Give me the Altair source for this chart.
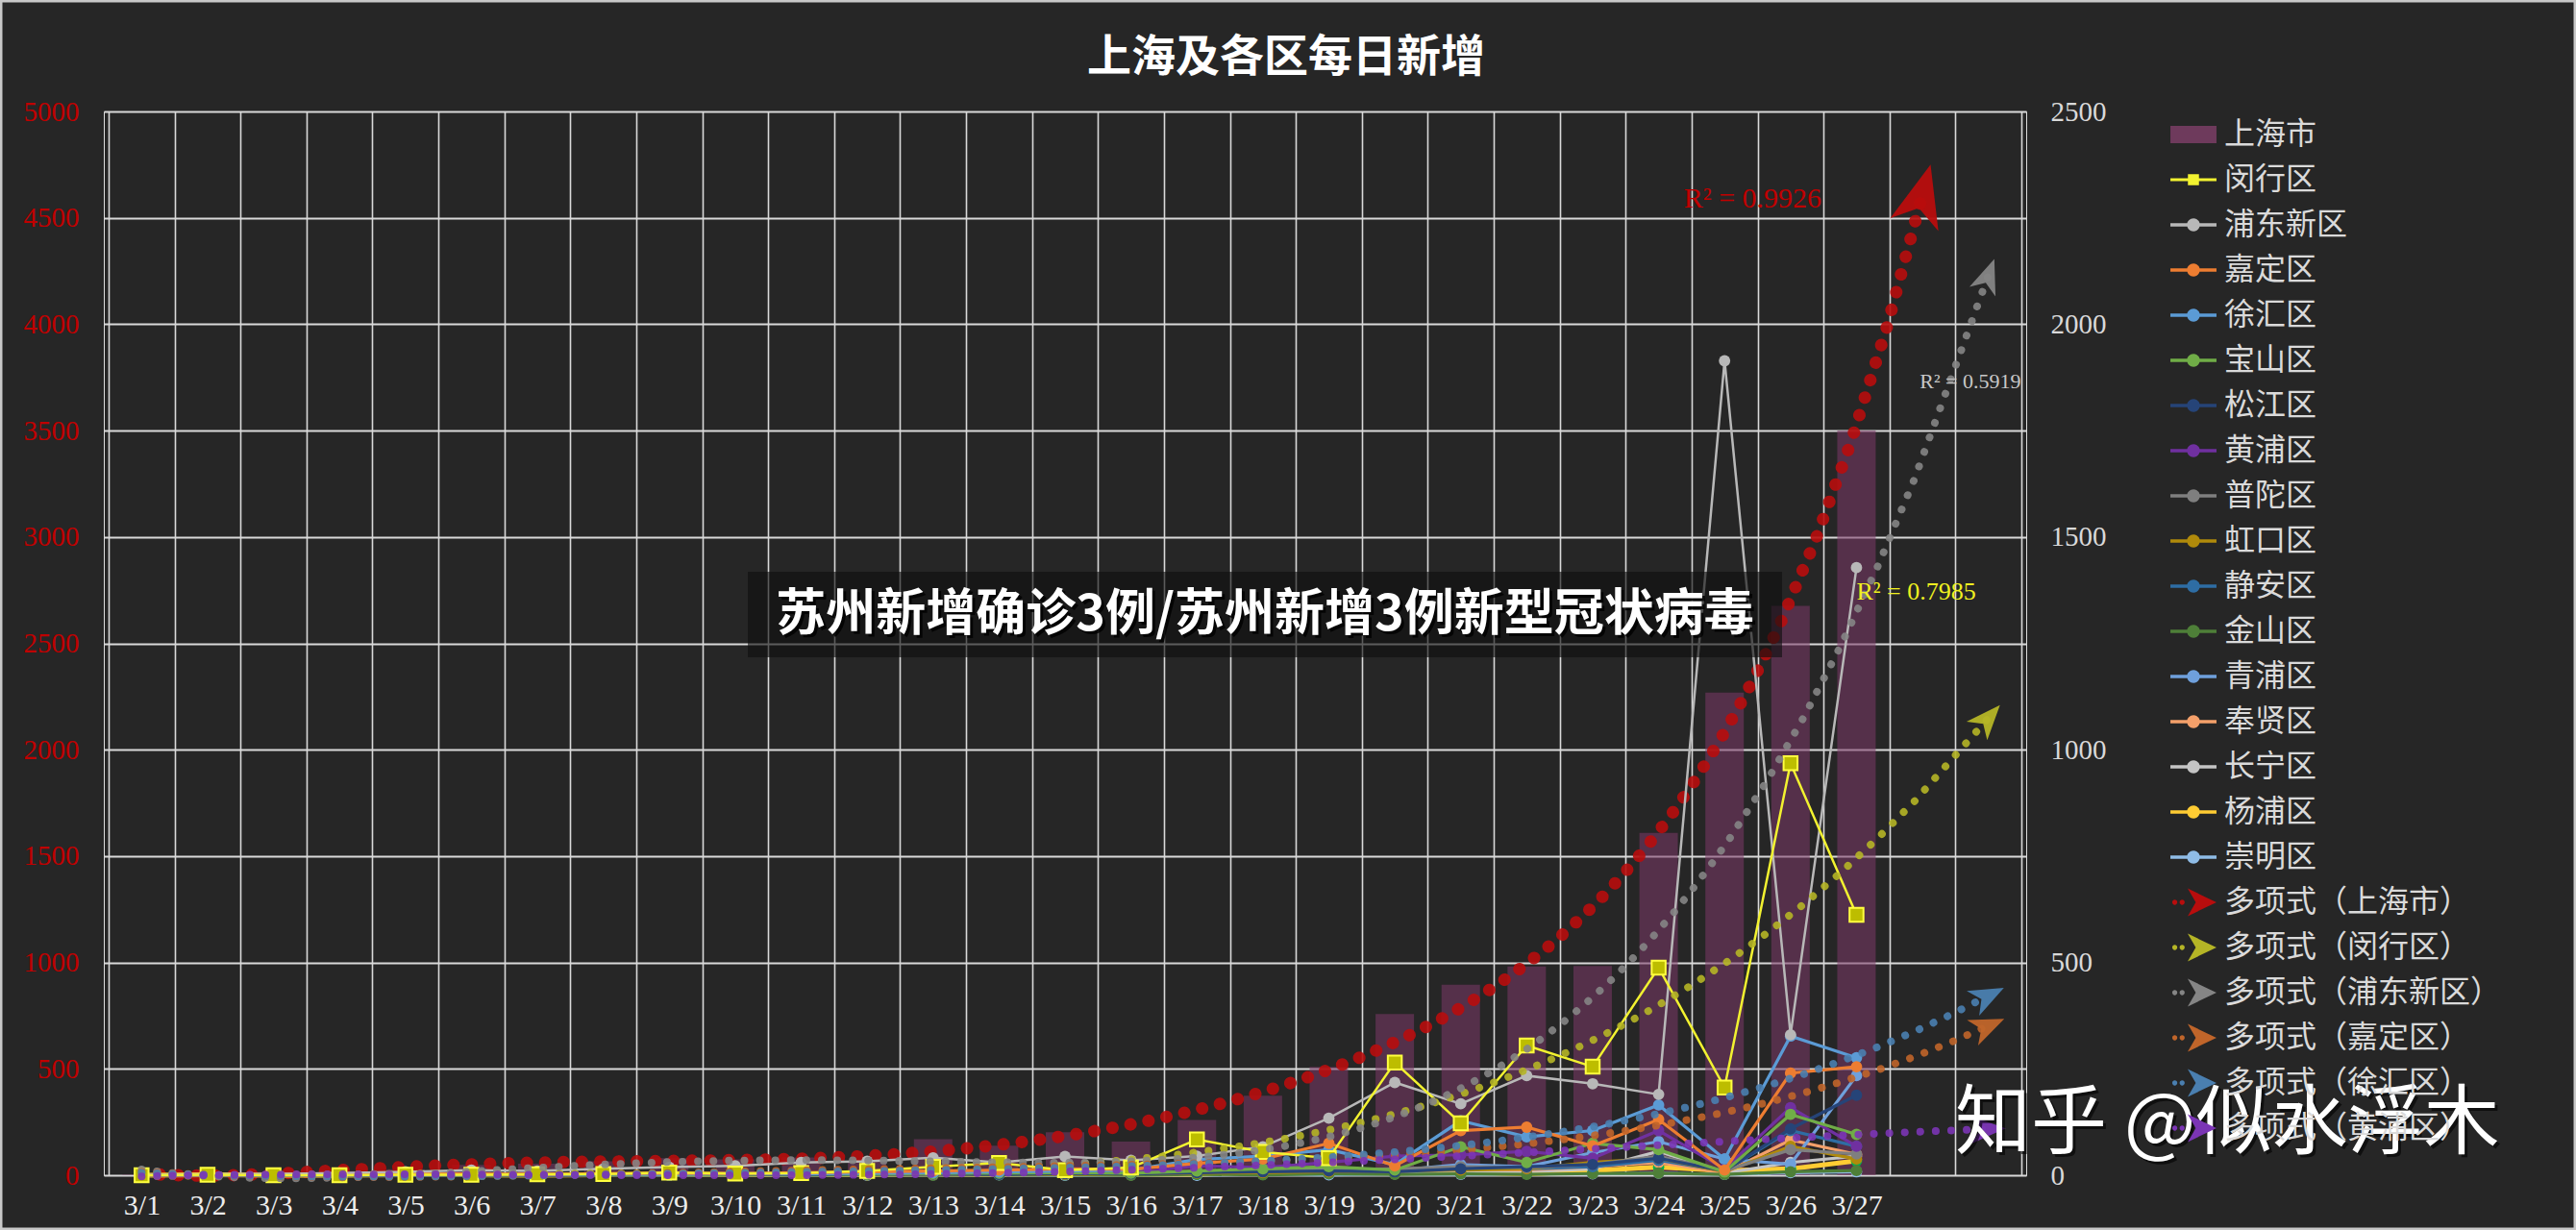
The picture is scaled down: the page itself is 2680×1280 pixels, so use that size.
import altair as alt
import pandas as pd

# ---------------- text ----------------
TITLE = "上海及各区每日新增"
BANNER = "苏州新增确诊3例/苏州新增3例新型冠状病毒"
WATERMARK = "知乎 @似水浮木"

# ---------------- data ----------------
DAY_NUM = list(range(1, 28))  # 3/1 ... 3/27
SHANGHAI = [2, 8, 16, 19, 28, 48, 54, 65, 80, 75, 83, 65, 169, 139, 202, 158, 260, 374, 509, 758,
            896, 981, 983, 1609, 2269, 2676, 3500]

DISTRICT_NAMES = ["闵行区", "浦东新区", "嘉定区", "徐汇区", "宝山区", "松江区", "黄浦区", "普陀区",
                  "虹口区", "静安区", "金山区", "青浦区", "奉贤区", "长宁区", "杨浦区", "崇明区"]
MINHANG = [0, 1, 0, 0, 1, 1, 2, 3, 6, 4, 5, 10, 20, 29, 12, 18, 84, 55, 40, 265, 122, 305, 255, 488, 206, 968, 612]
PUDONG = [1, 2, 3, 5, 8, 12, 10, 15, 19, 22, 30, 33, 41, 30, 44, 35, 45, 67, 134, 218, 168, 234, 215, 190, 1914, 330, 1428]
JIADING = [0, 0, 1, 1, 2, 3, 2, 4, 5, 4, 6, 8, 10, 12, 15, 14, 28, 38, 75, 22, 105, 113, 69, 131, 12, 240, 255]
XUHUI = [0, 0, 0, 1, 1, 2, 1, 3, 2, 4, 3, 5, 6, 8, 10, 12, 37, 45, 60, 25, 128, 90, 105, 165, 38, 327, 276]
BAOSHAN = [0, 0, 0, 0, 1, 0, 1, 2, 1, 2, 3, 2, 4, 5, 6, 5, 10, 15, 20, 12, 67, 30, 75, 60, 8, 143, 96]
SONGJIANG = [0, 0, 0, 0, 0, 1, 0, 1, 1, 2, 1, 2, 3, 2, 4, 3, 6, 8, 10, 8, 15, 20, 25, 40, 10, 109, 188]
HUANGPU = [0, 0, 0, 0, 0, 1, 1, 2, 1, 2, 3, 3, 4, 5, 6, 5, 22, 18, 30, 45, 48, 56, 40, 105, 15, 159, 68]
PUTUO = [0, 0, 0, 0, 1, 0, 1, 1, 2, 1, 2, 3, 2, 4, 3, 5, 8, 10, 12, 15, 20, 18, 25, 45, 10, 60, 50]
HONGKOU = [0, 0, 0, 0, 0, 0, 1, 0, 1, 1, 2, 1, 2, 3, 2, 3, 5, 6, 8, 10, 12, 15, 30, 40, 8, 68, 38]
JINGAN = [0, 0, 0, 0, 0, 1, 0, 1, 1, 1, 2, 2, 3, 2, 4, 3, 6, 8, 10, 12, 18, 15, 20, 35, 10, 105, 68]
JINSHAN = [0, 0, 0, 0, 0, 0, 0, 0, 0, 1, 0, 1, 0, 1, 1, 0, 2, 1, 3, 2, 3, 2, 4, 5, 2, 8, 11]
QINGPU = [0, 0, 0, 0, 1, 0, 1, 0, 1, 2, 1, 2, 3, 2, 4, 3, 5, 8, 12, 11, 25, 20, 53, 79, 38, 26, 234]
FENGXIAN = [0, 0, 0, 0, 1, 1, 0, 1, 2, 1, 2, 3, 2, 4, 3, 5, 8, 10, 12, 8, 15, 12, 20, 30, 5, 83, 49]
CHANGNING = [0, 0, 0, 0, 0, 1, 0, 1, 0, 1, 1, 2, 2, 3, 2, 3, 5, 6, 8, 5, 10, 8, 15, 56, 5, 30, 45]
YANGPU = [0, 1, 0, 0, 1, 1, 0, 1, 2, 1, 2, 2, 3, 2, 4, 3, 2, 7, 10, 5, 8, 3, 11, 19, 11, 15, 34]
CHONGMING = [0, 0, 0, 1, 0, 0, 0, 0, 1, 0, 1, 0, 1, 1, 0, 1, 0, 2, 1, 3, 2, 4, 3, 5, 2, 6, 8]

DISTRICT_VALUES = dict(zip(DISTRICT_NAMES, [MINHANG, PUDONG, JIADING, XUHUI, BAOSHAN, SONGJIANG, HUANGPU,
                                            PUTUO, HONGKOU, JINGAN, JINSHAN, QINGPU, FENGXIAN, CHANGNING,
                                            YANGPU, CHONGMING]))

TREND_DISTRICTS = ["闵行区", "浦东新区", "嘉定区", "徐汇区", "黄浦区"]
TREND_NAMES = ["多项式（上海市）", "多项式（闵行区）", "多项式（浦东新区）", "多项式（嘉定区）",
               "多项式（徐汇区）", "多项式（黄浦区）"]
# polynomial trend settings: (order, last day of the forecast)
SH_TREND = (6, 28)
DISTRICT_TREND = (4, 29)

R2_TEXT = ["R² = 0.9926", "R² = 0.5919", "R² = 0.7985"]
R2_DAY = [24.38, 27.96, 27.0]
R2_VALUE = [4590, 1865, 1371]  # first on left axis, the others on right axis

# ---------------- styles ----------------
BG = "#262626"
GRID = "#D9D9D9"
LINE_COLOR = {
    "闵行区": "#F2F230", "浦东新区": "#B8B8B8", "嘉定区": "#ED7D31", "徐汇区": "#5B9BD5",
    "宝山区": "#70AD47", "松江区": "#264478", "黄浦区": "#7030A0", "普陀区": "#7F7F7F",
    "虹口区": "#B08A0B", "静安区": "#2E6DA4", "金山区": "#4E7F38", "青浦区": "#6FA0DC",
    "奉贤区": "#F4A06A", "长宁区": "#C4C4C4", "杨浦区": "#FFCC33", "崇明区": "#8FBCE6",
}
MARKER_COLOR = dict(LINE_COLOR)
MARKER_COLOR["杨浦区"] = "#00B050"
LINE_WIDTH = {n: 3.2 for n in DISTRICT_NAMES}
LINE_WIDTH.update({"闵行区": 2.5, "浦东新区": 2.5, "杨浦区": 5})
TREND_COLOR = {"上海市": "#B80D0D", "闵行区": "#B5B526", "浦东新区": "#858585", "嘉定区": "#C0652A",
               "徐汇区": "#4A7FB0", "黄浦区": "#7B35B5"}
BAR_COLOR = "#7B3867"
R2_COLOR = ["#C00000", "#C8C8C8", "#F0F020"]
R2_SIZE = [30, 22, 26]

W, H = 2000, 1107
KX = W / 29.0

ARROW = "M1,0L-1,-0.8L-0.45,0L-1,0.8Z"
SYM_BAR = "M-1,-0.38H1V0.38H-1Z"
SYM_LINE_CIRCLE = "M-1,-0.07H1V0.07H-1Z M-0.28,0A0.28,0.28,0,1,1,0.28,0A0.28,0.28,0,1,1,-0.28,0Z"
SYM_LINE_SQUARE = "M-1,-0.06H1V0.06H-1Z M-0.24,-0.24H0.24V0.24H-0.24Z"
SYM_TREND = ("M-0.25,-0.6L1,0L-0.25,0.6L0.1,0Z "
             "M-0.92,0A0.11,0.11,0,1,1,-0.70,0A0.11,0.11,0,1,1,-0.92,0Z "
             "M-0.6,0A0.11,0.11,0,1,1,-0.38,0A0.11,0.11,0,1,1,-0.6,0Z")

# ---------------- encodings ----------------
X_GRID = [i + 0.5 for i in range(30)]
X = alt.X("day:Q", scale=alt.Scale(domain=[0.5, 29.5], nice=False, zero=False),
          axis=alt.Axis(values=X_GRID, grid=True, gridColor=GRID, gridWidth=1.6, ticks=False, domain=False,
                        labelExpr="datum.value < 27 ? '3/' + (datum.value + 0.5) : ''",
                        labelOffset=KX / 2, labelFont="Liberation Serif", labelFontSize=30,
                        labelColor="#EDEDED", labelPadding=16, labelOverlap=False, labelFlush=False,
                        labelBound=False, title=None))
Y_L = alt.Y("value:Q", scale=alt.Scale(domain=[0, 5000], nice=False, zero=True),
            axis=alt.Axis(values=list(range(0, 5001, 500)), format="d", orient="left", grid=True,
                          gridColor=GRID, gridWidth=2, ticks=False, domain=False, labelColor="#C00000",
                          labelFont="Liberation Serif", labelFontSize=29, labelPadding=26, title=None))
Y_R = alt.Y("value:Q", scale=alt.Scale(domain=[0, 2500], nice=False, zero=True),
            axis=alt.Axis(values=list(range(0, 2501, 500)), format="d", orient="right", grid=False,
                          ticks=False, domain=False, labelColor="#D9D9D9", labelFont="Liberation Serif",
                          labelFontSize=29, labelPadding=25, title=None))


def series_df(values):
    return pd.DataFrame({"day": DAY_NUM, "value": values})


def trend(values, color, y, ky, dot, gap, arrow_size, settings):
    order, last_day = settings
    base = alt.Chart(series_df(values)).transform_regression(
        "day", "value", method="poly", order=order, extent=[1, last_day])
    line = base.mark_line(color=color, strokeWidth=dot, strokeDash=[0.1, gap], strokeCap="round",
                          opacity=0.9).encode(x=X, y=y)
    head = base.transform_window(
        lx="lag(day)", lv="lag(value)", sort=[alt.SortField("day")]
    ).transform_joinaggregate(mx="max(day)").transform_filter(
        "datum.day >= datum.mx"
    ).transform_calculate(
        ang=f"(atan2(-(datum.value - datum.lv) * {ky}, (datum.day - datum.lx) * {KX}) * 180 / PI + 360) % 360"
    ).mark_point(shape=ARROW, filled=True, color=color, size=arrow_size, opacity=0.95,
                 strokeWidth=0).encode(x=X, y=y, angle=alt.Angle("ang:Q", scale=None))
    return [line, head]


# ---------------- left group (上海市) ----------------
bars = alt.Chart(series_df(SHANGHAI)).mark_bar(orient="vertical", size=40, color=BAR_COLOR,
                                               opacity=0.55).encode(x=X, y=Y_L)
left_layers = [bars] + trend(SHANGHAI, TREND_COLOR["上海市"], Y_L, H / 5000.0, 13, 19, 4200, SH_TREND)
r2_left = alt.Chart(pd.DataFrame({"t": [R2_TEXT[0]], "day": [R2_DAY[0]], "value": [R2_VALUE[0]]})).mark_text(
    align="left", baseline="middle", font="Liberation Serif", fontSize=R2_SIZE[0], color=R2_COLOR[0]
).encode(x=X, y=Y_L, text="t:N")
left_layers.append(r2_left)
left = alt.layer(*left_layers)

# ---------------- right group (districts) ----------------
right_layers = []
for name in reversed(DISTRICT_NAMES):
    df = series_df(DISTRICT_VALUES[name])
    right_layers.append(alt.Chart(df).mark_line(color=LINE_COLOR[name], strokeWidth=LINE_WIDTH[name])
                        .encode(x=X, y=Y_R))
    if name == "闵行区":
        pts = alt.Chart(df).mark_point(shape="square", filled=True, size=210, fill="#BDBD00",
                                       stroke="#FFFF40", strokeWidth=2, opacity=1)
    else:
        pts = alt.Chart(df).mark_point(shape="circle", filled=True, size=140, color=MARKER_COLOR[name],
                                       opacity=1)
    right_layers.append(pts.encode(x=X, y=Y_R))

for name in TREND_DISTRICTS:
    right_layers += trend(DISTRICT_VALUES[name], TREND_COLOR[name], Y_R, H / 2500.0, 8, 16, 1300,
                          DISTRICT_TREND)

r2_right = alt.Chart(pd.DataFrame({"t": R2_TEXT[1:], "day": R2_DAY[1:], "value": R2_VALUE[1:],
                                   "c": R2_COLOR[1:], "s": R2_SIZE[1:]})).mark_text(
    align="left", baseline="middle", font="Liberation Serif"
).encode(x=X, y=Y_R, text="t:N", color=alt.Color("c:N", scale=None), size=alt.Size("s:Q", scale=None))
right_layers.append(r2_right)

# legend (drawn from the scales only)
LEGEND_NAMES = ["上海市"] + DISTRICT_NAMES + TREND_NAMES
LEG_COLORS = ["#6E3A5C"] + [LINE_COLOR[n] for n in DISTRICT_NAMES] + \
             [TREND_COLOR[n] for n in ["上海市"] + TREND_DISTRICTS]
LEG_SHAPES = [SYM_BAR] + [SYM_LINE_SQUARE if n == "闵行区" else SYM_LINE_CIRCLE for n in DISTRICT_NAMES] + \
             [SYM_TREND] * len(TREND_NAMES)
leg = alt.Legend(orient="none", legendX=2150, legendY=0, title=None, labelFont="Noto Sans CJK SC",
                 labelFontSize=32, labelColor="#DADADA", symbolSize=2300, symbolStrokeWidth=0,
                 rowPadding=7, labelOffset=8, symbolOpacity=1, labelLimit=600)
legend_layer = alt.Chart(pd.DataFrame({"series": LEGEND_NAMES})).transform_filter("false").mark_point(
    filled=True, opacity=1).encode(
    color=alt.Color("series:N", scale=alt.Scale(domain=LEGEND_NAMES, range=LEG_COLORS), legend=leg),
    shape=alt.Shape("series:N", scale=alt.Scale(domain=LEGEND_NAMES, range=LEG_SHAPES), legend=leg),
)
right_layers.append(legend_layer)
right = alt.layer(*right_layers)

# ---------------- overlays ----------------
one = pd.DataFrame({"t": [TITLE]})
title = alt.Chart(one).mark_text(font="Noto Sans CJK SC", fontSize=46, fontWeight="bold", color="#FFFFFF",
                                 align="center", baseline="middle").encode(
    text="t:N", x=alt.value(1230), y=alt.value(-56))
banner_box = alt.Chart(pd.DataFrame({"t": [BANNER]})).mark_rect(color="#0E0E0E", opacity=0.62).encode(
    x=alt.value(670), x2=alt.value(1746), y=alt.value(479), y2=alt.value(568))
banner_shadow = alt.Chart(pd.DataFrame({"t": [BANNER]})).mark_text(
    font="Noto Sans CJK SC", fontSize=52, fontWeight="bold", color="#000000", opacity=0.8,
    align="center", baseline="middle").encode(text="t:N", x=alt.value(1211), y=alt.value(527))
banner_text = alt.Chart(pd.DataFrame({"t": [BANNER]})).mark_text(
    font="Noto Sans CJK SC", fontSize=52, fontWeight="bold", color="#FFFFFF",
    align="center", baseline="middle").encode(text="t:N", x=alt.value(1208), y=alt.value(524))
wm_shadow = alt.Chart(pd.DataFrame({"t": [WATERMARK]})).mark_text(
    font="Noto Sans CJK SC", fontSize=79, color="#000000", opacity=0.6,
    align="left", baseline="middle").encode(text="t:N", x=alt.value(1929), y=alt.value(1058))
wm_text = alt.Chart(pd.DataFrame({"t": [WATERMARK]})).mark_text(
    font="Noto Sans CJK SC", fontSize=79, color="#FFFFFF",
    align="left", baseline="middle").encode(text="t:N", x=alt.value(1926), y=alt.value(1055))
border = alt.Chart(pd.DataFrame({"t": [""]})).mark_rect(fillOpacity=0, stroke="#C8C8C8", strokeWidth=3).encode(
    x=alt.value(-107), x2=alt.value(2571), y=alt.value(-115), y2=alt.value(1163))

chart = alt.layer(left, right, title, banner_box, banner_shadow, banner_text, wm_shadow, wm_text, border
                  ).resolve_scale(y="independent").properties(
    width=W, height=H,
    autosize=alt.AutoSizeParams(type="none"),
    padding={"left": 108, "top": 116, "right": 572, "bottom": 57},
    background=BG,
).configure_view(stroke=GRID, strokeWidth=2).configure(font="Noto Sans CJK SC")

chart.save("out.html", embed_options={"renderer": "svg", "actions": False})
